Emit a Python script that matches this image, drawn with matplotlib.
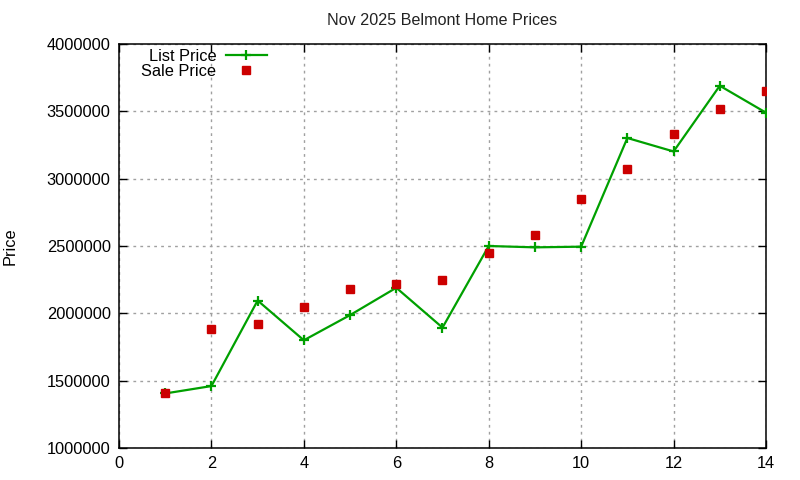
import matplotlib
matplotlib.use("Agg")
import matplotlib.pyplot as plt

plt.rcParams['font.family'] = ['Liberation Sans', 'DejaVu Sans']

x_vals = [1, 2, 3, 4, 5, 6, 7, 8, 9, 10, 11, 12, 13, 14]
list_price = [1405000, 1460000, 2095000, 1800000, 1987000, 2190000, 1894000,
              2500000, 2490000, 2495000, 3302000, 3202000, 3690000, 3490000]
sale_price = [1405000, 1881000, 1921000, 2047000, 2180000, 2217000, 2247000,
              2450000, 2584000, 2850000, 3074000, 3335000, 3518000, 3653000]
x_ticks = [0, 2, 4, 6, 8, 10, 12, 14]
y_ticks = [1000000, 1500000, 2000000, 2500000, 3000000, 3500000, 4000000]

fig = plt.figure(figsize=(8, 4.8), dpi=100)
ax = fig.add_axes([119/800, 1 - 448/480, (766 - 119)/800, (448 - 44)/480])

green = '#00a000'
red = '#cc0000'

ax.plot(x_vals, list_price, color=green, lw=1.6, marker='+', ms=7, mew=1.6,
        label='List Price', zorder=3)
ax.plot(x_vals, sale_price, ls='none', color=red, marker='s', ms=6,
        label='Sale Price', zorder=4)

ax.set_xlim(0, 14)
ax.set_ylim(1000000, 4000000)
ax.set_xticks(x_ticks)
ax.set_yticks(y_ticks)
ax.set_yticklabels([str(v) for v in y_ticks])
ax.grid(True, color='#a0a0a0', ls=(0, (2, 3)), lw=1)
ax.set_axisbelow(True)
ax.tick_params(direction='in', length=6, width=1, top=True, right=True,
               labelsize=11.8, colors='black', pad=6)
for s in ax.spines.values():
    s.set_linewidth(1.1)
    s.set_color('black')

ax.set_title('Nov 2025 Belmont Home Prices', fontsize=11.6, pad=14, color='#222222')
ax.set_ylabel('Price', fontsize=11.8, labelpad=21)

leg = ax.legend(loc='upper left', bbox_to_anchor=(0.019, 1.012), frameon=False,
                markerfirst=False, fontsize=11.8, handlelength=2.5,
                handletextpad=0.6, labelspacing=0.0, borderaxespad=0.2)

fig.savefig('out.png', dpi=100)
